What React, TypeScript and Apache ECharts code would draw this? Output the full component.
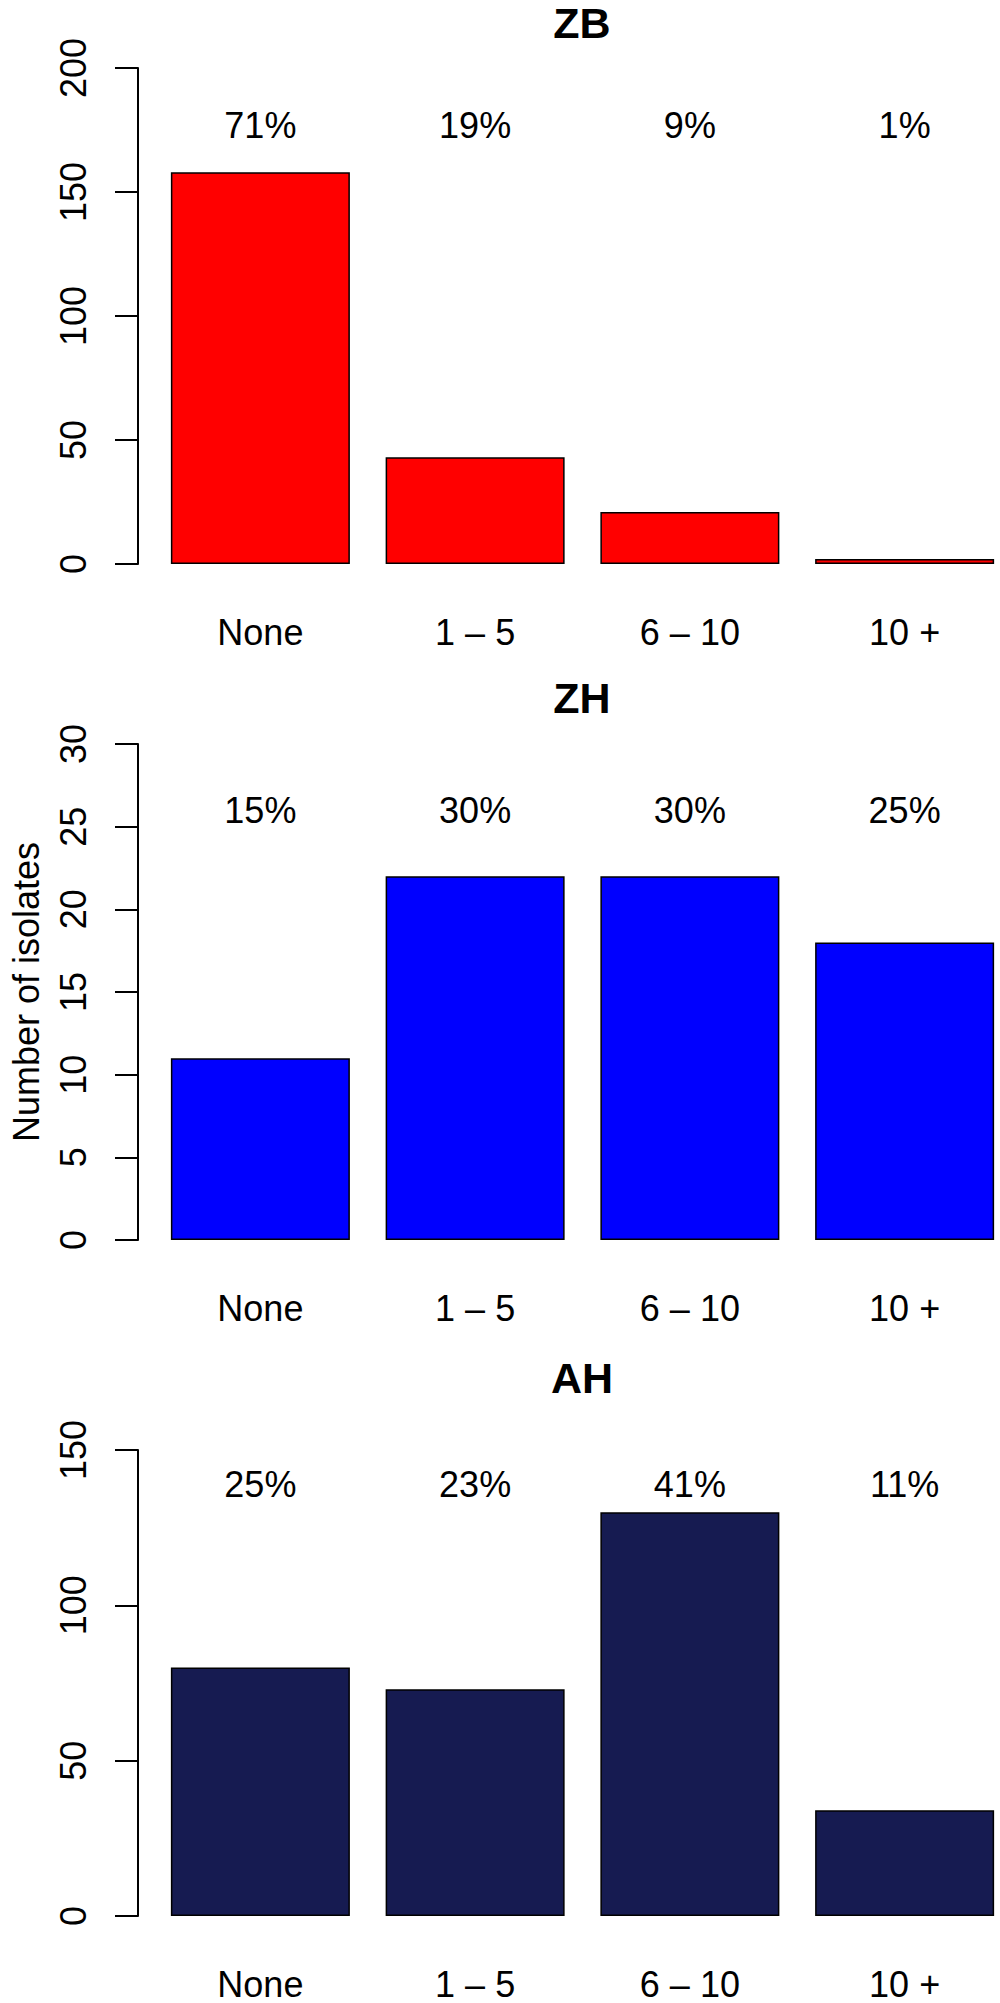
import React, { useEffect, useRef } from "react";
import * as echarts from "echarts";

const categories = ["None", "1 – 5", "6 – 10", "10 +"];
const zbCounts = [158, 43, 21, 2];
const zhCounts = [11, 22, 22, 18];
const ahCounts = [80, 73, 130, 34];
const zbPercent = ["71%", "19%", "9%", "1%"];
const zhPercent = ["15%", "30%", "30%", "25%"];
const ahPercent = ["25%", "23%", "41%", "11%"];
const panelTitles = ["ZB", "ZH", "AH"];
const yAxisMax = [200, 30, 150];
const yAxisStep = [50, 5, 50];
const yAxisTitle = "Number of isolates";

const FONT = "'Liberation Sans', Arial, Helvetica, sans-serif";

export default function App() {
  const ref = useRef<HTMLDivElement>(null);
  useEffect(() => {
    if (!ref.current) return;
    const chart = echarts.init(ref.current, null, { renderer: "svg" });
    const counts = [zbCounts, zhCounts, ahCounts];
    const percents = [zbPercent, zhPercent, ahPercent];
    const colors = ["#FF0000", "#0000FF", "#161B51"];
    const gridTop = [68, 744, 1450];
    const gridHeight = [496, 496, 466];
    const titleY = [23, 698, 1378];
    const labelLevel = [177, 26, 139];

    const grids = gridTop.map((t, i) => ({
      left: 153,
      top: t,
      width: 859,
      height: gridHeight[i],
      containLabel: false,
      outerBoundsMode: "none",
    }));
    const xAxes = counts.map((_, i) => ({
      type: "category",
      gridIndex: i,
      data: categories,
      axisLine: { show: false },
      axisTick: { show: false },
      axisLabel: { fontSize: 36, color: "#000", fontFamily: FONT, margin: 50 },
      splitLine: { show: false },
    }));
    const yAxes = counts.map((_, i) => ({
      type: "value",
      gridIndex: i,
      min: 0,
      max: yAxisMax[i],
      interval: yAxisStep[i],
      offset: 15,
      axisLine: { show: true, lineStyle: { color: "#000", width: 2 } },
      axisTick: { show: true, length: 23, lineStyle: { color: "#000", width: 2 } },
      axisLabel: { rotate: 90, fontSize: 36, color: "#000", fontFamily: FONT, margin: 47 },
      splitLine: { show: false },
    }));
    const series: any[] = [];
    counts.forEach((c, i) => {
      series.push({
        type: "bar",
        xAxisIndex: i,
        yAxisIndex: i,
        data: c,
        barWidth: 179,
        itemStyle: { color: colors[i], borderColor: "#000", borderWidth: 1.5 },
        silent: true,
      });
      series.push({
        type: "scatter",
        xAxisIndex: i,
        yAxisIndex: i,
        symbolSize: 0,
        itemStyle: { opacity: 1 },
        data: percents[i].map((_, j) => [j, labelLevel[i]]),
        label: {
          show: true,
          position: "inside",
          fontSize: 36,
          color: "#000",
          opacity: 1,
          fontFamily: FONT,
          formatter: (p: any) => percents[i][p.dataIndex],
        },
        silent: true,
      });
    });
    const graphic: any[] = panelTitles.map((t, i) => ({
      type: "text",
      x: 582,
      y: titleY[i],
      style: {
        text: t,
        fontSize: 43,
        fontWeight: "bold",
        fontFamily: FONT,
        fill: "#000",
        textAlign: "center",
        textVerticalAlign: "middle",
      },
    }));
    graphic.push({
      type: "text",
      x: 26,
      y: 992,
      rotation: Math.PI / 2,
      style: {
        text: yAxisTitle,
        fontSize: 36,
        fontFamily: FONT,
        fill: "#000",
        textAlign: "center",
        textVerticalAlign: "middle",
      },
    });

    chart.setOption({
      animation: false,
      backgroundColor: "#fff",
      grid: grids,
      xAxis: xAxes,
      yAxis: yAxes,
      series,
      graphic,
    });
    return () => chart.dispose();
  }, []);
  return (
    <div
      ref={ref}
      style={{ position: "absolute", left: 0, top: 0, width: 1000, height: 2003 }}
    />
  );
}
